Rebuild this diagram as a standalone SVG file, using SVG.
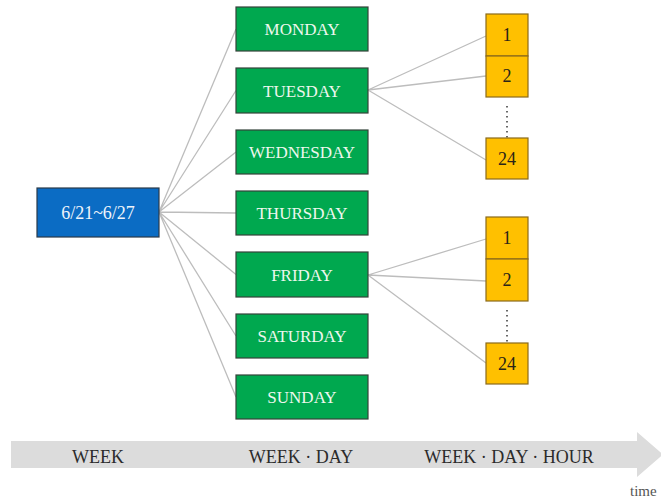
<svg xmlns="http://www.w3.org/2000/svg" width="661" height="502" viewBox="0 0 661 502">
  <style>
    .wk { fill: #0b6cc4; stroke: #2a3a4a; stroke-width: 1.2; }
    .day { fill: #00a84f; stroke: #34433a; stroke-width: 1.2; }
    .hr { fill: #ffc000; stroke: #8a6a1c; stroke-width: 1.2; }
    .lbl { font-family: "Liberation Serif", "Times New Roman", Times, "DejaVu Serif", serif; text-anchor: middle; }
    .lt { fill: #eef7ee; font-size: 17px; }
    .lw { fill: #eef4fb; font-size: 18px; }
    .ln { fill: #2a2418; font-size: 18px; }
    .ax { fill: #2b2b2b; font-size: 18px; }
    .tm { font-family: "Liberation Serif", "Times New Roman", Times, "DejaVu Serif", serif; font-size: 15px; fill: #555; }
    .link { stroke: #bdbdbd; stroke-width: 1.3; fill: none; }
    .dots { stroke: #444; stroke-width: 1.6; stroke-dasharray: 1.5 3.5; fill: none; }
  </style>

  <!-- time axis -->
  <g id="axis">
    <polygon points="11,441 637,441 637,432 663,454.5 637,477 637,468 11,468" fill="#dcdcdc"/>
    <text class="lbl ax" x="98" y="463">WEEK</text>
    <text class="lbl ax" x="301" y="463">WEEK · DAY</text>
    <text class="lbl ax" x="509" y="463">WEEK · DAY · HOUR</text>
    <text class="tm" x="630" y="496">time</text>
  </g>

  <!-- connectors -->
  <g id="connectors">
    <path class="link" d="M159,212 L236,29 M159,212 L236,90.5 M159,212 L236,152 M159,212 L236,213 M159,212 L236,274.5 M159,212 L236,336 M159,212 L236,397"/>
    <path class="link" d="M368,90 L486,36 M368,90 L486,76 M368,90 L486,160"/>
    <path class="link" d="M368,275 L486,239 M368,275 L486,281 M368,275 L486,363"/>
    <path class="dots" d="M507,106 V138 M507,310 V343"/>
  </g>

  <g id="week">
    <rect class="wk" x="37" y="188" width="122" height="49"/>
    <text class="lbl lw" x="98" y="219">6/21~6/27</text>
  </g>

  <g id="monday">
    <rect class="day" x="236" y="7" width="132" height="44"/>
    <text class="lbl lt" x="302" y="35">MONDAY</text>
  </g>
  <g id="tuesday">
    <rect class="day" x="236" y="68" width="132" height="45"/>
    <text class="lbl lt" x="302" y="96.5">TUESDAY</text>
  </g>
  <g id="wednesday">
    <rect class="day" x="236" y="130" width="132" height="44"/>
    <text class="lbl lt" x="302" y="158">WEDNESDAY</text>
  </g>
  <g id="thursday">
    <rect class="day" x="236" y="191" width="132" height="44"/>
    <text class="lbl lt" x="302" y="219">THURSDAY</text>
  </g>
  <g id="friday">
    <rect class="day" x="236" y="252" width="132" height="45"/>
    <text class="lbl lt" x="302" y="280.5">FRIDAY</text>
  </g>
  <g id="saturday">
    <rect class="day" x="236" y="314" width="132" height="44"/>
    <text class="lbl lt" x="302" y="342">SATURDAY</text>
  </g>
  <g id="sunday">
    <rect class="day" x="236" y="375" width="132" height="44"/>
    <text class="lbl lt" x="302" y="403">SUNDAY</text>
  </g>

  <g id="tue-h1">
    <rect class="hr" x="486" y="14" width="42" height="42"/>
    <text class="lbl ln" x="507" y="41">1</text>
  </g>
  <g id="tue-h2">
    <rect class="hr" x="486" y="56" width="42" height="41"/>
    <text class="lbl ln" x="507" y="82">2</text>
  </g>
  <g id="tue-h24">
    <rect class="hr" x="486" y="138" width="42" height="41"/>
    <text class="lbl ln" x="507" y="165">24</text>
  </g>

  <g id="fri-h1">
    <rect class="hr" x="486" y="217" width="42" height="42"/>
    <text class="lbl ln" x="507" y="244">1</text>
  </g>
  <g id="fri-h2">
    <rect class="hr" x="486" y="259" width="42" height="42"/>
    <text class="lbl ln" x="507" y="286">2</text>
  </g>
  <g id="fri-h24">
    <rect class="hr" x="486" y="343" width="42" height="41"/>
    <text class="lbl ln" x="507" y="370">24</text>
  </g>
</svg>
